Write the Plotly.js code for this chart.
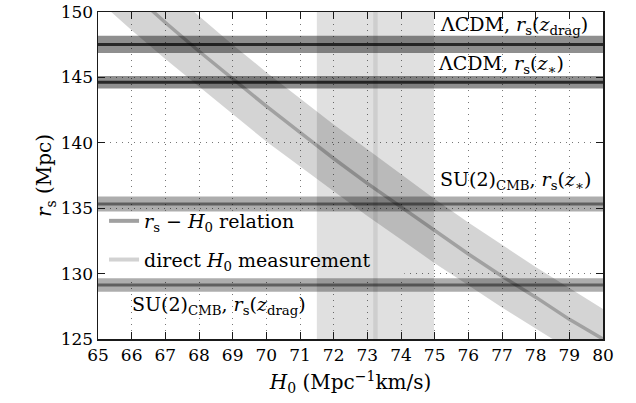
<!DOCTYPE html>
<html>
<head>
<meta charset="utf-8">
<script src="https://cdn.plot.ly/plotly-3.0.1.min.js"></script>
<style>html,body{margin:0;padding:0;background:#fff;}#chart{width:636px;height:403px;}</style>
</head>
<body>
<div id="chart"></div>
<script>
// ---- data ----
const h0Grid   = [65, 66, 67, 68, 69, 70, 71, 72, 73, 74, 75, 76, 77, 78, 79, 80];
const rsCenter = [153.8, 151.5, 149.2, 147.0, 144.9, 142.8, 140.8, 138.8, 136.9, 135.1, 133.3, 131.5, 129.8, 128.2, 126.5, 125.0];
const rsUpper  = [156.6, 154.2, 151.9, 149.7, 147.5, 145.4, 143.4, 141.4, 139.5, 137.6, 135.7, 133.9, 132.2, 130.5, 128.9, 127.3];
const rsLower  = [150.9, 148.6, 146.4, 144.3, 142.2, 140.1, 138.2, 136.3, 134.4, 132.6, 130.8, 129.1, 127.4, 125.8, 124.2, 122.6];

const h0Measured = 73.24;
const h0Error    = 1.74;

const bandLabels = ['ΛCDM, <i>r</i><sub>s</sub>(<i>z</i><sub>drag</sub>)',
                    'ΛCDM, <i>r</i><sub>s</sub>(<i>z</i><sub>∗</sub>)',
                    'SU(2)<sub>CMB</sub>, <i>r</i><sub>s</sub>(<i>z</i><sub>∗</sub>)',
                    'SU(2)<sub>CMB</sub>, <i>r</i><sub>s</sub>(<i>z</i><sub>drag</sub>)'];
const bandCenter = [147.52, 144.63, 135.32, 129.13];
const bandError  = [0.66, 0.47, 0.57, 0.52];
const bandKind   = ['lcdm', 'lcdm', 'su2', 'su2'];

const legendLabels = ['<i>r</i><sub>s</sub> − <i>H</i><sub>0</sub> relation',
                      'direct <i>H</i><sub>0</sub> measurement'];

const xRange = [65, 80];
const yRange = [125, 150];
const xTicks = [65, 66, 67, 68, 69, 70, 71, 72, 73, 74, 75, 76, 77, 78, 79, 80];
const yTicks = [125, 130, 135, 140, 145, 150];

// ---- traces ----
const FONT = 'DejaVu Serif';
const TXT = 19;
const traces = [];

traces.push({
  x: [h0Measured - h0Error, h0Measured + h0Error, h0Measured + h0Error, h0Measured - h0Error, h0Measured - h0Error],
  y: [yRange[0], yRange[0], yRange[1], yRange[1], yRange[0]],
  mode: 'lines', fill: 'toself', fillcolor: 'rgba(0,0,0,0.12)',
  line: {width: 0}, showlegend: false, hoverinfo: 'skip'
});

traces.push({
  x: h0Grid.concat(h0Grid.slice().reverse()),
  y: rsUpper.concat(rsLower.slice().reverse()),
  mode: 'lines', fill: 'toself', fillcolor: 'rgba(0,0,0,0.17)',
  line: {width: 0}, showlegend: false, hoverinfo: 'skip'
});

bandCenter.forEach((c, i) => {
  const e = bandError[i];
  const alpha = bandKind[i] === 'lcdm' ? 0.44 : 0.32;
  traces.push({
    x: [xRange[0], xRange[1], xRange[1], xRange[0], xRange[0]],
    y: [c - e, c - e, c + e, c + e, c - e],
    mode: 'lines', fill: 'toself', fillcolor: 'rgba(0,0,0,' + alpha + ')',
    line: {width: 0}, showlegend: false, hoverinfo: 'skip'
  });
});

traces.push({
  x: h0Grid, y: rsCenter, mode: 'lines',
  line: {color: 'rgba(0,0,0,0.24)', width: 3.5}, showlegend: false, hoverinfo: 'skip'
});
traces.push({
  x: [h0Measured, h0Measured], y: yRange, mode: 'lines',
  line: {color: 'rgba(0,0,0,0.08)', width: 4.5}, showlegend: false, hoverinfo: 'skip'
});
bandCenter.forEach((c, i) => {
  traces.push({
    x: xRange, y: [c, c], mode: 'lines',
    line: {color: bandKind[i] === 'lcdm' ? 'rgba(0,0,0,0.72)' : 'rgba(0,0,0,0.45)', width: 3},
    showlegend: false, hoverinfo: 'skip'
  });
});

traces.push({x: [null], y: [null], mode: 'lines', name: legendLabels[0],
  line: {color: '#a0a0a0', width: 4}, legendgroup: 'a'});
traces.push({x: [null], y: [null], mode: 'lines', name: legendLabels[1],
  line: {color: '#d2d2d2', width: 4}, legendgroup: 'b'});

const annPos = [
  {x: 79.62, y: 149.0, xanchor: 'right'},
  {x: 78.9,  y: 145.95, xanchor: 'right'},
  {x: 79.7,  y: 137.15, xanchor: 'right'},
  {x: 65.95, y: 127.55, xanchor: 'left'}
];
const annotations = bandLabels.map((t, i) => ({
  x: annPos[i].x, y: annPos[i].y, xref: 'x', yref: 'y', text: t,
  xanchor: annPos[i].xanchor, yanchor: 'middle', showarrow: false,
  font: {family: FONT, size: TXT, color: '#000'}
}));

const axisCommon = {
  showline: true, linecolor: '#1a1a1a', linewidth: 1.5, mirror: 'ticks',
  ticks: 'inside', ticklen: 7, tickwidth: 1, tickcolor: '#1a1a1a',
  showgrid: true, gridcolor: '#777', gridwidth: 1, griddash: '1px,5px',
  zeroline: false, tickfont: {family: FONT, size: 17, color: '#000'}
};

const layout = {
  width: 636, height: 403,
  margin: {l: 98, r: 33, t: 12, b: 64},
  paper_bgcolor: '#fff', plot_bgcolor: '#fff',
  font: {family: FONT, size: TXT, color: '#000'},
  showlegend: true,
  legend: {x: 0.012, y: 0.419, xanchor: 'left', yanchor: 'top',
           bgcolor: 'rgba(0,0,0,0)', font: {family: FONT, size: TXT, color: '#000'},
           tracegroupgap: 11, itemwidth: 30},
  xaxis: Object.assign({}, axisCommon, {
    range: xRange, tickvals: xTicks, ticktext: xTicks.map(String),
    title: {text: '<i>H</i><sub>0</sub> (Mpc<sup>−1</sup>km/s)', font: {family: FONT, size: 20, color: '#000'}, standoff: 11}
  }),
  yaxis: Object.assign({}, axisCommon, {
    range: yRange, tickvals: yTicks, ticktext: yTicks.map(String),
    title: {text: '<i>r</i><sub>s</sub> (Mpc)', font: {family: FONT, size: 20, color: '#000'}, standoff: 3}
  }),
  shapes: [{
    type: 'rect', xref: 'x', yref: 'y', x0: 65, x1: 74.1, y0: 129.7, y1: 134.8,
    fillcolor: '#fff', line: {width: 0}, layer: 'between'
  }],
  annotations: annotations
};

Plotly.newPlot('chart', traces, layout, {staticPlot: true, displayModeBar: false});
</script>
</body>
</html>
